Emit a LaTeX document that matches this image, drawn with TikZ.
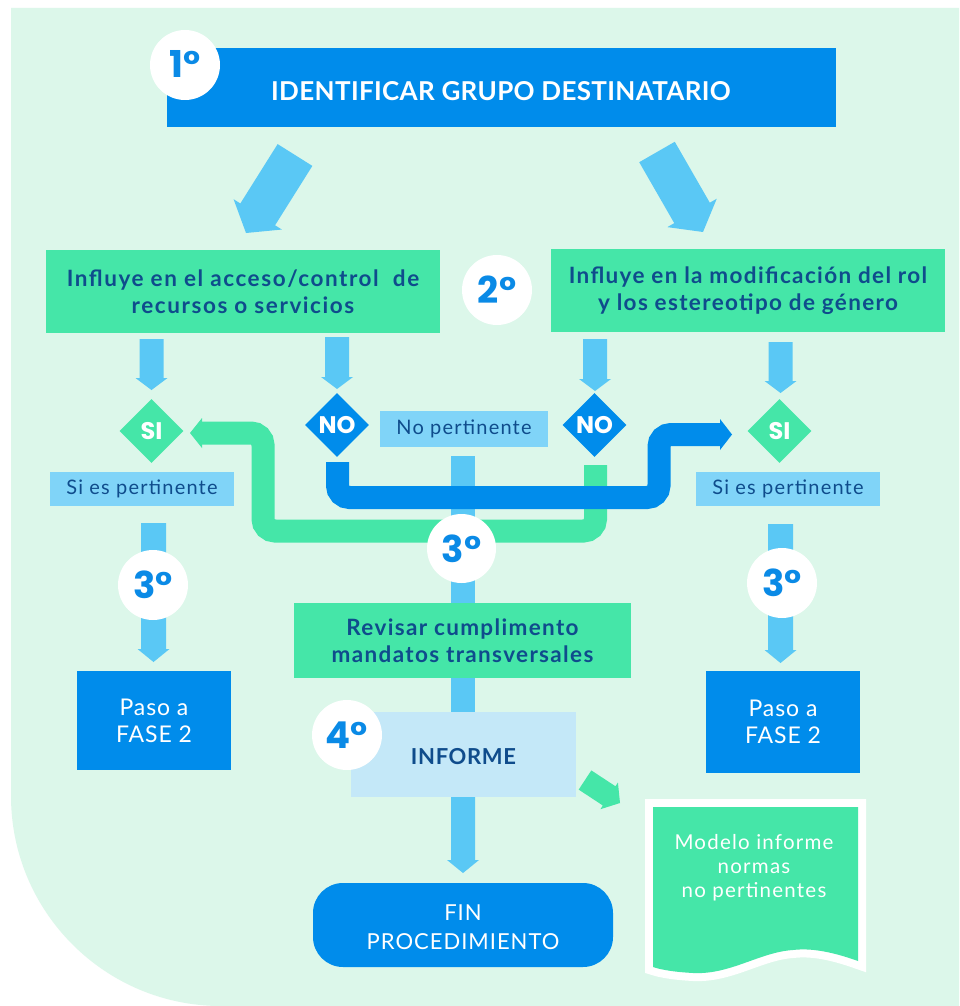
\documentclass[tikz,border=0pt]{standalone}
\usepackage{fontspec}
\setmainfont{Lato}
\newfontfamily\numfont{Poppins}
\usetikzlibrary{calc,shapes.geometric}
\definecolor{cbg}{RGB}{220,247,234}
\definecolor{cblue}{RGB}{0,140,235}
\definecolor{cgreen}{RGB}{69,230,168}
\definecolor{carrow}{RGB}{90,200,245}
\definecolor{clabel}{RGB}{128,212,248}
\definecolor{cinf}{RGB}{196,232,248}
\definecolor{cdark}{RGB}{15,76,140}
\definecolor{cnum}{RGB}{10,138,230}
% fat arrow: start, tip, half shaft, half head, head length, colour
\newcommand\fatarrow[6]{%
  \path ($(#2)!#5!(#1)$) coordinate (fa-h);
  \fill[#6] ($(#1)!#3!90:(#2)$) -- ($(fa-h)!#3!90:(#2)$) -- ($(fa-h)!#4!90:(#2)$)
    -- (#2) -- ($(fa-h)!#4!-90:(#2)$) -- ($(fa-h)!#3!-90:(#2)$) -- ($(#1)!#3!-90:(#2)$) -- cycle;
}
\newcommand\ls[1]{\addfontfeatures{LetterSpace=#1}}
\tikzset{
  box/.style={rectangle, inner sep=0pt, align=center},
  bluebox/.style={box, fill=cblue, text=white},
  greenbox/.style={box, fill=cgreen, text=cdark, font=\fontsize{22.5}{26.5}\selectfont\bfseries\ls{6}},
  lblbox/.style={box, fill=clabel, text=cdark, font=\fontsize{20}{24}\selectfont\ls{6}},
  numcirc/.style={circle, fill=white, inner sep=0pt, minimum size=70pt, text=cnum,
    font=\numfont\bfseries\fontsize{37}{37}\selectfont},
  dia/.style={diamond, aspect=1, inner sep=0pt, minimum width=64pt, minimum height=64pt,
    text=white, font=\numfont\bfseries\fontsize{24}{24}\selectfont},
  pipe/.style={line width=23pt, rounded corners=12pt, line cap=butt},
}
\begin{document}
\begin{tikzpicture}[x=1pt,y=-1pt]
\useasboundingbox (0,0) rectangle (959,1006);
\fill[white] (0,0) rectangle (959,1006);
\fill[cbg] (959,8) -- (11,8) [rounded corners=210pt] -- (11,1006) [sharp corners] -- (959,1006) -- cycle;

% central light-blue pipe (under everything)
\coordinate (cp1) at (463,456);
\coordinate (cp2) at (463,603);
\fill[carrow] ($(cp1)+(-12,0)$) rectangle ($(cp2)+(12,0)$);

% top box
\node[bluebox, minimum width=669pt, minimum height=79pt] (top) at (501.5,87.5) {};
\node[box, text=white, font=\fontsize{26}{30}\selectfont\bfseries\ls{1.3}] (toptxt) at (501,91) {IDENTIFICAR GRUPO DESTINATARIO};
\node[numcirc] (c1) at (185,65) {\raisebox{3pt}{1°}};

% green boxes
\node[greenbox, minimum width=394pt, minimum height=83pt, font=\fontsize{22.5}{26.5}\selectfont\bfseries\ls{7}] (infL) at (243,291.5)
  {Influye en el acceso/control\ \ de\\recursos o servicios};
\node[greenbox, minimum width=394pt, minimum height=83pt] (infR) at (748,290.5)
  {Influye en la modificación del rol\\y los estereotipo de género};
\node[numcirc] (c2) at (497,290) {2°};

% diagonal arrows
\coordinate (daL1) at (295,155); \coordinate (daL2) at (246,233);
\coordinate (daR1) at (657,152); \coordinate (daR2) at (703,232);
\fatarrow{daL1}{daL2}{20.5pt}{28.5pt}{22pt}{carrow}
\fatarrow{daR1}{daR2}{20.5pt}{28.5pt}{22pt}{carrow}

% small down arrows
\coordinate (sa1) at (151.5,339); \coordinate (sa1e) at (151.5,390);
\coordinate (sa2) at (337,337);   \coordinate (sa2e) at (337,389);
\coordinate (sa3) at (595,339);   \coordinate (sa3e) at (595,391);
\coordinate (sa4) at (780.5,342); \coordinate (sa4e) at (780.5,393);
\fatarrow{sa1}{sa1e}{12pt}{16pt}{12pt}{carrow}
\fatarrow{sa2}{sa2e}{12pt}{16pt}{12pt}{carrow}
\fatarrow{sa3}{sa3e}{12pt}{16pt}{12pt}{carrow}
\fatarrow{sa4}{sa4e}{12pt}{16pt}{12pt}{carrow}

% diamonds
\node[dia, fill=cgreen] (siL) at (151.5,431) {SI};
\node[dia, fill=cblue] (noL) at (337,425) {NO};
\node[dia, fill=cblue] (noR) at (594.5,425) {NO};
\node[dia, fill=cgreen] (siR) at (779.5,431) {SI};

% labels
\node[lblbox, minimum width=168pt, minimum height=36pt] (np) at (464,429) {No pertinente};
\node[lblbox, minimum width=184pt, minimum height=34pt] (slL) at (142,489) {Si es pertinente};
\node[lblbox, minimum width=184pt, minimum height=34pt] (slR) at (788,489) {Si es pertinente};

% green pipe
\coordinate (gp0) at (595.5,465);
\coordinate (gpT) at (190,433);
\draw[pipe, cgreen] (gp0) -- (595.5,531) -- (263,531) -- (263,433) -- (202,433);
\fill[cgreen] (202,418) -- (gpT) -- (202,448) -- cycle;
% blue pipe
\coordinate (bp0) at (337.5,462);
\coordinate (bpT) at (732,434.5);
\draw[pipe, cblue] (bp0) -- (337.5,497.5) -- (659,497.5) -- (659,434.5) -- (720.5,434.5);
\fill[cblue] (720,419) -- (bpT) -- (720,450) -- cycle;

\node[numcirc, minimum size=69pt] (c3m) at (461.5,548.5) {3°};

% side lower arrows
\coordinate (la1) at (153.5,523); \coordinate (la1e) at (153.5,662);
\coordinate (la2) at (780.5,524); \coordinate (la2e) at (780.5,663);
\fatarrow{la1}{la1e}{12.5pt}{16pt}{13pt}{carrow}
\fatarrow{la2}{la2e}{12.5pt}{16pt}{13pt}{carrow}
\node[numcirc] (c3L) at (153,585) {3°};
\node[numcirc] (c3R) at (782,583) {3°};

\node[bluebox, minimum width=154pt, minimum height=99pt, font=\fontsize{23}{27}\selectfont\ls{4}] (pasoL) at (154,720.5) {Paso a\\FASE 2};
\node[bluebox, minimum width=154pt, minimum height=102pt, font=\fontsize{23}{27}\selectfont\ls{4}] (pasoR) at (783,722) {Paso a\\FASE 2};

% centre column
\node[greenbox, minimum width=337pt, minimum height=75pt, font=\fontsize{22.5}{27}\selectfont\bfseries\ls{6}] (rev) at (462.5,640.5)
  {Revisar cumplimento\\mandatos transversales};
\coordinate (cp3) at (463,678); \coordinate (cp4) at (463,712);
\fill[carrow] ($(cp3)+(-12,0)$) rectangle ($(cp4)+(12,0)$);
\node[box, fill=cinf, minimum width=225pt, minimum height=85pt] (inf) at (463.5,754.5) {};
\node[box, text=cdark, font=\fontsize{22}{25}\selectfont\bfseries\ls{3}] (inftxt) at (463.5,757) {INFORME};
\node[numcirc] (c4) at (347,735) {4°};
\coordinate (ca1) at (463,797); \coordinate (ca1e) at (463,873);
\fatarrow{ca1}{ca1e}{12pt}{16pt}{13pt}{carrow}
\node[bluebox, rounded corners=30pt, minimum width=300pt, minimum height=84pt] (fin) at (463,925) {};
\node[box, text=white, font=\fontsize{22}{29}\selectfont\ls{4.5}] (fintxt) at (463,927.5) {FIN\\PROCEDIMIENTO};

% arrow to document
\coordinate (ga1) at (585,780); \coordinate (ga1e) at (620,803);
\fatarrow{ga1}{ga1e}{11.5pt}{16pt}{13pt}{cgreen}

% document
\def\docpath{(653,807) -- (858,807) -- (858,961) .. controls (830,951) and (810,948) .. (793,950)
  .. controls (760,952) and (730,975) .. (693,973) .. controls (675,972) and (662,970) .. (653,967) -- cycle}
\draw[white, fill=white, line width=16pt, line join=miter] \docpath;
\fill[cgreen] \docpath;
\node[box, text=white, font=\fontsize{20.5}{24}\selectfont\ls{6}] (doc) at (754,868)
  {Modelo informe\\normas\\ no pertinentes};
\end{tikzpicture}
\end{document}
